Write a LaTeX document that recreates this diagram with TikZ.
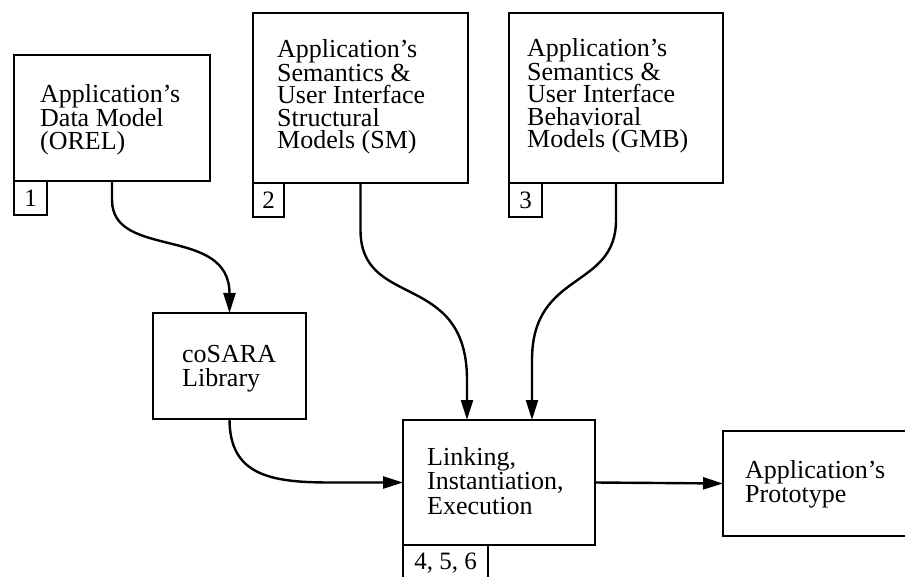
\documentclass[tikz,border=0pt]{standalone}
\usepackage{fontspec}
\setmainfont{Liberation Serif}
\usetikzlibrary{arrows.meta,positioning}
\begin{document}
\begin{tikzpicture}[x=1pt,y=-1pt,
  box/.style={draw, line width=2.4pt, rectangle, inner sep=0pt, outer sep=0pt, anchor=north west},
  tag/.style={box, font=\fontsize{25pt}{25pt}\selectfont},
  label/.style={anchor=north west, inner sep=0pt, align=left, font=\fontsize{26pt}{22.5pt}\selectfont},
  looselabel/.style={label, font=\fontsize{26pt}{24.5pt}\selectfont},
  conn/.style={line width=2.4pt, -{Triangle[length=20pt,width=12pt]}}]
\useasboundingbox (0,0) rectangle (905,577);
\clip (0,0) rectangle (905,577);

% model boxes
\node[box, minimum width=196pt, minimum height=126pt] (m1) at (14,55) {};
\node[box, minimum width=215pt, minimum height=170pt] (m2) at (253,13) {};
\node[box, minimum width=214pt, minimum height=170pt] (m3) at (509,13) {};
\node[box, minimum width=153pt, minimum height=106pt] (lib) at (153,313) {};
\node[box, minimum width=192pt, minimum height=125pt] (link) at (403,420) {};
\node[box, minimum width=183pt, minimum height=105pt] (proto) at (723,431) {};

% numbered tags under the boxes
\node[tag, minimum width=33pt, minimum height=34pt] (t1) at (m1.south west) {1};
\node[tag, minimum width=31pt, minimum height=34pt] (t2) at (m2.south west) {2};
\node[tag, minimum width=33pt, minimum height=34pt] (t3) at (m3.south west) {3};
\node[tag, minimum width=85pt, minimum height=38pt, text depth=6pt] (t4) at (link.south west) {4, 5, 6};

% box texts
\node[label] (x1) at (40,84) {Application’s\\Data Model\\(OREL)};
\node[label] (x2) at (277,39) {Application’s\\Semantics \&\\User Interface\\Structural\\Models (SM)};
\node[label] (x3) at (527,38) {Application’s\\Semantics \&\\User Interface\\Behavioral\\Models (GMB)};
\node[looselabel] (x4) at (182,345) {coSARA\\Library};
\node[looselabel] (x5) at (427,447) {Linking,\\Instantiation,\\Execution};
\node[looselabel] (x6) at (745,460) {Application’s\\Prototype};

% entry points on the top of the linking box
\coordinate (l1) at ([xshift=-32pt]link.north);
\coordinate (l2) at ([xshift=33pt]link.north);

% connectors
\draw[conn] (m1.south) -- ++(0,19) .. controls +(0,60) and +(0,-88) .. (lib.north);
\draw[conn] (m2.south) -- ++(0,47) .. controls +(0,80) and +(0,-110) .. ([yshift=40pt]l1) -- (l1);
\draw[conn] (m3.south) -- ++(0,37) .. controls +(0,70) and +(0,-90) .. ([yshift=60pt]l2) -- (l2);
\draw[conn] (lib.south) .. controls +(0,56) and +(-60,0) .. ([xshift=-73pt]link.west) -- (link.west);
\draw[conn] (link.east) -- (proto.west);
\end{tikzpicture}
\end{document}
